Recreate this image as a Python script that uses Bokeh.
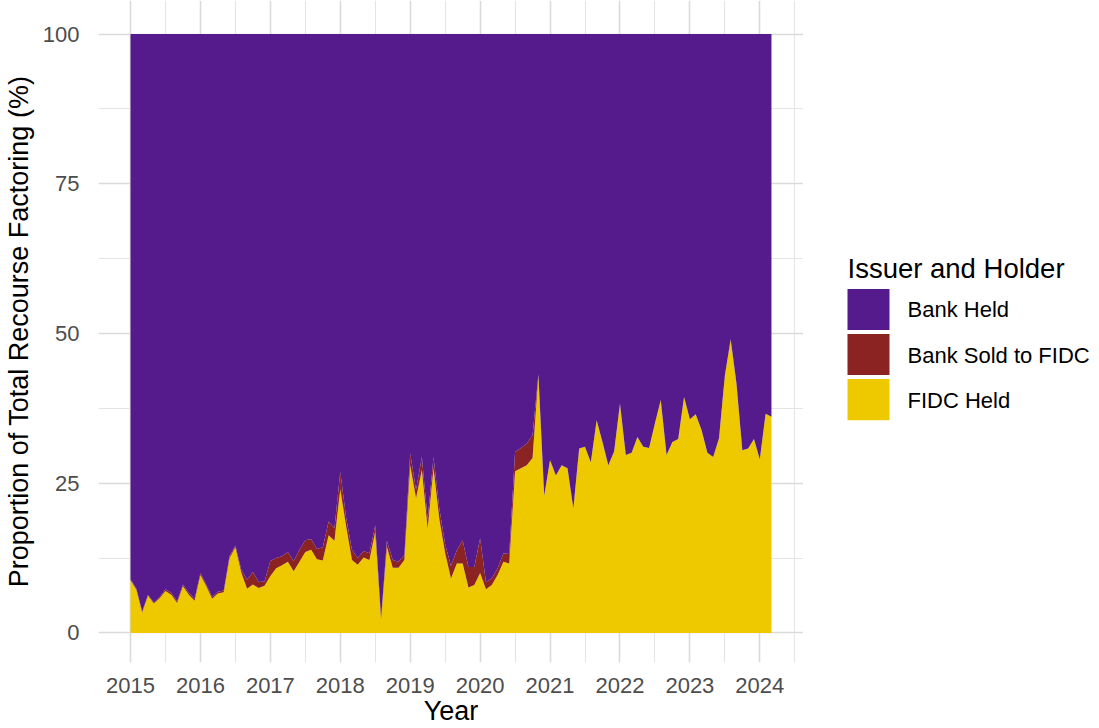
import pandas as pd
from bokeh.core.properties import value
from bokeh.embed import file_html
from bokeh.layouts import row
from bokeh.models import ColumnDataSource, FixedTicker, Range1d
from bokeh.plotting import figure
from bokeh.resources import INLINE

# monthly shares (%) of total recourse factoring, Jan 2015 - Mar 2024
first_month = "2015-01-01"

fidc_held = [
    8.8, 7.2, 3.4, 6.2, 4.9, 5.8, 7.0, 6.4, 5.0, 7.8, 6.4, 5.4,
    9.7, 7.8, 5.7, 6.6, 6.8, 12.5, 14.3, 10.1, 7.4, 8.1, 7.5, 7.9,
    9.5, 10.8, 11.3, 11.9, 10.3, 11.9, 13.5, 13.9, 12.3, 12.1, 16.3, 15.4,
    24.0, 17.8, 12.2, 11.4, 12.6, 12.2, 16.9, 2.2, 14.4, 10.9, 10.9, 12.2,
    28.0, 22.5, 27.2, 17.4, 27.5, 19.0, 13.3, 9.1, 11.6, 11.6, 7.6, 8.0,
    10.0, 7.3, 8.0, 9.7, 11.9, 11.6, 27.0, 27.5, 28.0, 29.2, 43.0, 22.9,
    28.9, 26.3, 28.0, 27.5, 20.8, 30.8, 31.1, 28.5, 35.5, 31.9, 28.0, 30.3,
    38.3, 29.7, 30.1, 32.7, 31.1, 30.9, 35.0, 38.9, 29.7, 31.9, 32.4, 39.4,
    35.7, 36.5, 33.9, 30.1, 29.4, 32.5, 43.0, 48.9, 41.6, 30.5, 30.8, 32.4,
    29.0, 36.6, 36.1,
]

bank_sold = [
    0.2, 0.2, 0.2, 0.2, 0.2, 0.2, 0.3, 0.3, 0.3, 0.3, 0.3, 0.3,
    0.3, 0.3, 0.3, 0.3, 0.3, 0.4, 0.3, 0.5, 1.5, 2.1, 1.0, 0.7,
    2.5, 1.7, 1.5, 1.6, 1.7, 2.0, 2.0, 1.8, 1.7, 2.2, 2.3, 2.1,
    2.9, 1.5, 1.7, 1.1, 1.1, 1.1, 1.1, 0.2, 1.0, 1.3, 1.0, 0.8,
    2.0, 1.4, 2.2, 1.5, 1.9, 1.8, 1.5, 2.1, 2.2, 3.9, 3.4, 3.0,
    5.8, 1.2, 1.1, 1.1, 1.4, 1.6, 3.2, 3.4, 3.6, 3.8, 0.2, 0.0,
    0.0, 0.0, 0.0, 0.0, 0.0, 0.0, 0.0, 0.0, 0.0, 0.0, 0.0, 0.0,
    0.0, 0.0, 0.0, 0.0, 0.0, 0.0, 0.0, 0.0, 0.0, 0.0, 0.0, 0.0,
    0.0, 0.0, 0.0, 0.0, 0.0, 0.0, 0.0, 0.2, 0.0, 0.0, 0.0, 0.0,
    0.0, 0.0, 0.0,
]

year_ticks = [2015, 2016, 2017, 2018, 2019, 2020, 2021, 2022, 2023, 2024]
half_year_ticks = [2014.5, 2015.5, 2016.5, 2017.5, 2018.5, 2019.5,
                   2020.5, 2021.5, 2022.5, 2023.5, 2024.5]
pct_ticks = [0, 25, 50, 75, 100]
pct_minor = [12.5, 37.5, 62.5, 87.5]

series = ["Bank Held", "Bank Sold to FIDC", "FIDC Held"]
colors = ["#551A8B", "#8B2323", "#EEC900"]
legend_title = "Issuer and Holder"

FONT = "Liberation Sans"

months = pd.date_range(first_month, periods=len(fidc_held), freq="MS")
x = list(months.year + (months.month - 1) / 12)
bank_held = [100 - f - s for f, s in zip(fidc_held, bank_sold)]

source = ColumnDataSource(data=dict(x=x, fidc=fidc_held, sold=bank_sold, bank=bank_held))

# main panel
p = figure(width=803, height=728, output_backend="svg", toolbar_location=None,
           x_range=Range1d(2014.542, 2024.625), y_range=Range1d(-4.93, 105.60),
           x_axis_label="Year",
           y_axis_label="Proportion of Total Recourse Factoring (%)",
           min_border_left=97, min_border_right=0, min_border_top=0,
           min_border_bottom=0)
p.outline_line_color = None
p.background_fill_color = "white"
p.border_fill_color = "white"

p.varea_stack(["fidc", "sold", "bank"], x="x", source=source,
              color=[colors[2], colors[1], colors[0]])

p.xaxis.ticker = FixedTicker(ticks=year_ticks, minor_ticks=half_year_ticks)
p.yaxis.ticker = FixedTicker(ticks=pct_ticks, minor_ticks=pct_minor)
for ax in (p.xaxis[0], p.yaxis[0]):
    ax.axis_line_color = None
    ax.major_tick_line_color = None
    ax.minor_tick_line_color = None
    ax.major_tick_out = 0
    ax.major_tick_in = 0
    ax.major_label_text_font = FONT
    ax.major_label_text_font_size = "22px"
    ax.major_label_text_color = "#4D4D4D"
    ax.axis_label_text_font = FONT
    ax.axis_label_text_font_size = "27px"
    ax.axis_label_text_font_style = "normal"
    ax.axis_label_text_color = "black"
p.xaxis.major_label_standoff = 11
p.xaxis.axis_label_standoff = 0
p.yaxis.major_label_standoff = 15
p.yaxis.axis_label_standoff = 6

for g in (p.xgrid[0], p.ygrid[0]):
    g.grid_line_color = "#DADADA"
    g.grid_line_width = 1.6
    g.minor_grid_line_color = "#E4E4E4"
    g.minor_grid_line_width = 1.0

# legend panel, in pixel units (y grows downward); its frame lines up with the main one
p_leg = figure(width=296, height=728, output_backend="svg", toolbar_location=None,
               x_range=Range1d(0, 296), y_range=Range1d(661, 0), min_border=0,
               x_axis_location=None, y_axis_location=None)
p_leg.outline_line_color = None
p_leg.grid.visible = False
p_leg.border_fill_color = "white"
p_leg.background_fill_color = "white"

key_top = [288 + 45 * i for i in range(len(series))]
key_bottom = [t + 41 for t in key_top]
key_mid = [t + 21 for t in key_top]
p_leg.quad(left=44, right=86, top=key_top, bottom=key_bottom,
           fill_color=colors, line_color=None)
p_leg.text(x=104, y=key_mid, text=series, text_font=value(FONT),
           text_font_size="22px", text_color="black", text_baseline="middle")
p_leg.text(x=[44], y=[268], text=[legend_title], text_font=value(FONT),
           text_font_size="27.5px", text_color="black", text_baseline="alphabetic")

open("out.html", "w").write(file_html(row(p, p_leg), INLINE))
